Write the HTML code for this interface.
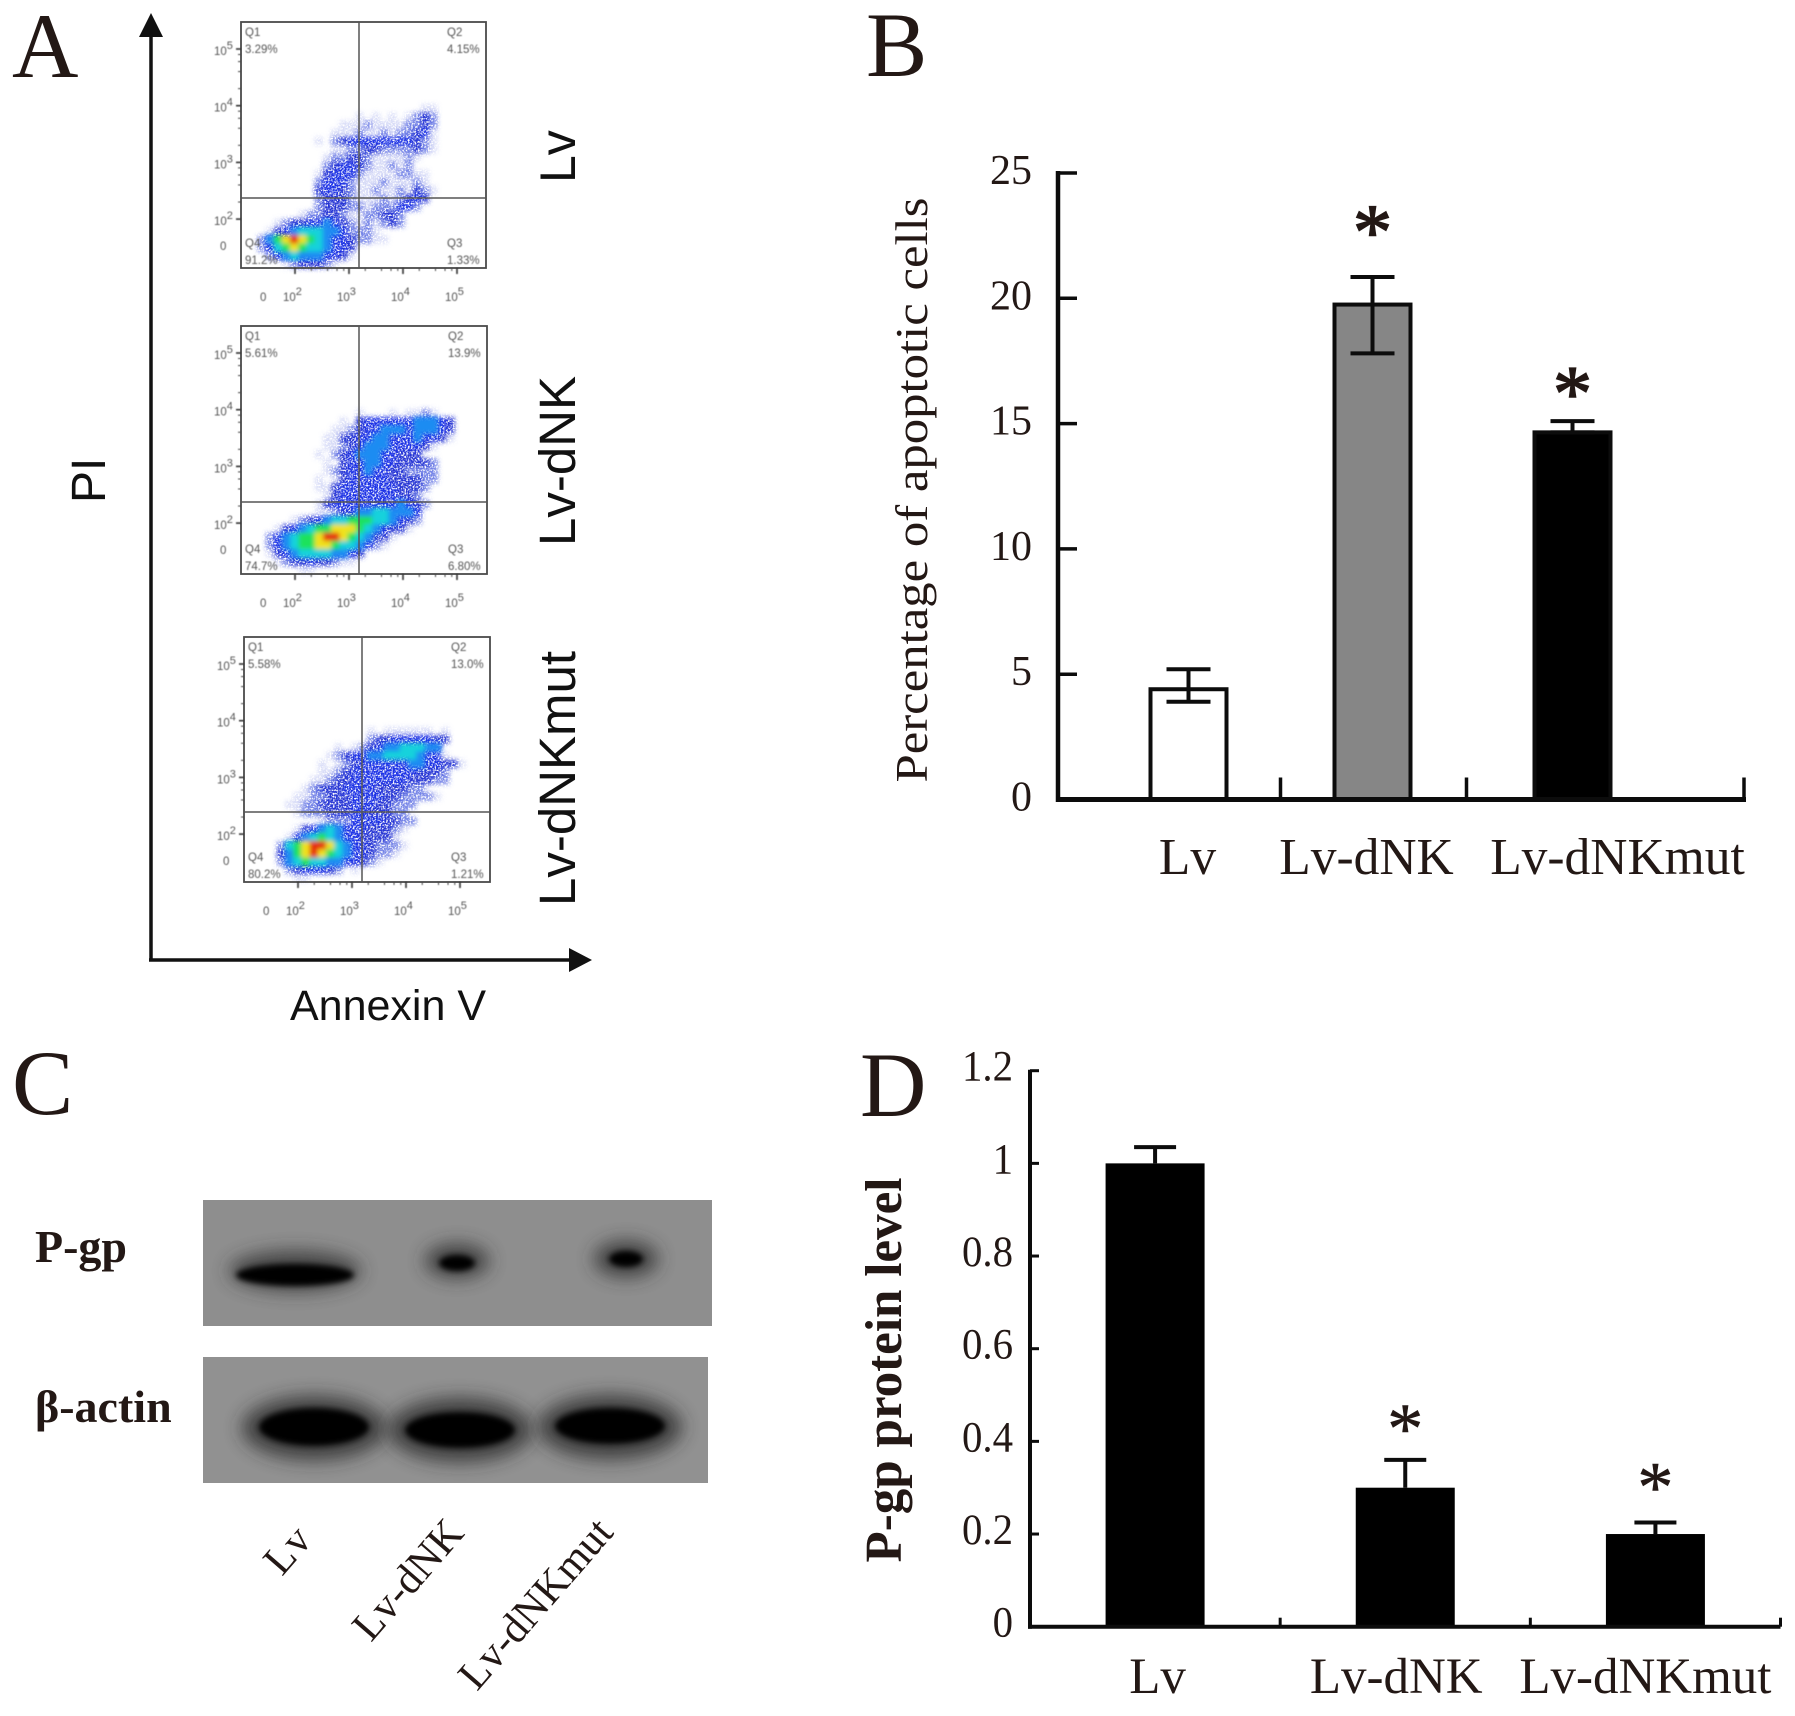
<!DOCTYPE html>
<html lang="en">
<head>
<meta charset="utf-8">
<title>Apoptosis and P-gp figure</title>
<style>
html,body{margin:0;padding:0;background:#fff;}
svg{display:block;}
text{font-family:"Liberation Serif",serif;fill:#231815;}
.sans{font-family:"Liberation Sans",sans-serif;fill:#111;}
.flow-text{font-family:"Liberation Sans",sans-serif;fill:#555;font-size:11.5px;}
</style>
</head>
<body>
<svg id="fig" xmlns="http://www.w3.org/2000/svg" width="1795" height="1716" viewBox="0 0 1795 1716">
<defs>
<filter id="speckle" x="-5%" y="-5%" width="110%" height="110%">
<feGaussianBlur in="SourceGraphic" stdDeviation="2.4" result="b"/>
<feTurbulence type="fractalNoise" baseFrequency="0.6" numOctaves="2" seed="4" result="n"/>
<feColorMatrix in="n" type="matrix" values="0 0 0 0 1  0 0 0 0 1  0 0 0 0 1  0 0 0 4 -1.2" result="m"/>
<feComposite in="b" in2="m" operator="in"/>
</filter>
<filter id="hot" x="-5%" y="-5%" width="110%" height="110%"><feGaussianBlur stdDeviation="2.4"/></filter>
<filter id="soft" x="-5%" y="-5%" width="110%" height="110%"><feGaussianBlur stdDeviation="0.45"/></filter>
<filter id="b3" x="-30%" y="-100%" width="160%" height="300%"><feGaussianBlur stdDeviation="3"/></filter>
<filter id="b9" x="-50%" y="-150%" width="200%" height="400%"><feGaussianBlur stdDeviation="9"/></filter>
<clipPath id="clip-pgp"><rect x="203" y="1200" width="509" height="126"/></clipPath>
<clipPath id="clip-actin"><rect x="203" y="1357" width="505" height="126"/></clipPath>
</defs>

<text x="12" y="77" font-size="92">A</text>
<text x="866" y="76" font-size="92">B</text>
<text x="12" y="1114" font-size="92">C</text>
<text x="860" y="1116" font-size="92">D</text>

<g>
<line x1="151" y1="961" x2="151" y2="30" stroke="#111" stroke-width="3.5"/>
<polygon points="151,13 139,37 163,37" fill="#111"/>
<line x1="149" y1="960" x2="575" y2="960" stroke="#111" stroke-width="3.5"/>
<polygon points="592,960 569,948 569,972" fill="#111"/>
<text class="sans" transform="translate(105,503) rotate(-90)" font-size="48">PI</text>
<text class="sans" x="290" y="1020" font-size="43">Annexin V</text>
<text class="sans" transform="translate(575,183) rotate(-90)" font-size="50">Lv</text>
<text class="sans" transform="translate(575,546) rotate(-90)" font-size="51">Lv-dNK</text>
<text class="sans" transform="translate(575,906) rotate(-90)" font-size="51">Lv-dNKmut</text>
</g>
<g id="flow-plots"></g>

<g id="chart-b"></g>

<g>
<text x="35" y="1262" font-size="46" font-weight="bold">P-gp</text>
<text x="35" y="1422" font-size="46" font-weight="bold" style="font-family:'Liberation Serif','Noto Serif CJK SC',serif">β-actin</text>
<g clip-path="url(#clip-pgp)">
<rect x="203" y="1200" width="509" height="126" fill="#8e8e8e"/>
<ellipse cx="295" cy="1271" rx="66" ry="20" fill="#333" opacity=".8" filter="url(#b9)"/>
<ellipse cx="295" cy="1275" rx="59" ry="11" fill="#000" filter="url(#b3)"/>
<ellipse cx="457" cy="1261" rx="32" ry="17" fill="#333" opacity=".85" filter="url(#b9)"/>
<ellipse cx="457" cy="1263" rx="18" ry="8" fill="#000" filter="url(#b3)"/>
<ellipse cx="626" cy="1259" rx="32" ry="18" fill="#333" opacity=".85" filter="url(#b9)"/>
<ellipse cx="626" cy="1259" rx="17" ry="8" fill="#000" filter="url(#b3)"/>
</g>
<g clip-path="url(#clip-actin)">
<rect x="203" y="1357" width="505" height="126" fill="#919191"/>
<ellipse cx="314" cy="1428" rx="72" ry="32" fill="#2a2a2a" opacity=".8" filter="url(#b9)"/>
<ellipse cx="460" cy="1430" rx="72" ry="32" fill="#2a2a2a" opacity=".8" filter="url(#b9)"/>
<ellipse cx="610" cy="1427" rx="72" ry="32" fill="#2a2a2a" opacity=".8" filter="url(#b9)"/>
<ellipse cx="314" cy="1427" rx="55" ry="19" fill="#000" filter="url(#b3)"/>
<ellipse cx="460" cy="1430" rx="55" ry="18" fill="#000" filter="url(#b3)"/>
<ellipse cx="610" cy="1426" rx="55" ry="18" fill="#000" filter="url(#b3)"/>
</g>
<text transform="translate(282,1577) rotate(-49)" font-size="42" letter-spacing="1">Lv</text>
<text transform="translate(371,1643) rotate(-49)" font-size="42.5">Lv-dNK</text>
<text transform="translate(477,1692) rotate(-49)" font-size="42.5">Lv-dNKmut</text>
</g>

<g id="chart-d"></g>

<script>
// ---- Panel B data ----
const apoptosisCategories = ['Lv', 'Lv-dNK', 'Lv-dNKmut'];
const apoptosisValues = [4.4, 19.75, 14.65];
const apoptosisErrUpper = [5.2, 20.85, 15.1];
const apoptosisErrLower = [3.9, 17.8, 14.65];
const apoptosisTicks = [0, 5, 10, 15, 20, 25];
const apoptosisStarHeights = [null, 22.85, 16.4];
const apoptosisFills = ['#ffffff', '#868686', '#000000'];

// ---- Panel D data ----
const pgpCategories = ['Lv', 'Lv-dNK', 'Lv-dNKmut'];
const pgpValues = [1.0, 0.3, 0.2];
const pgpErrUpper = [1.035, 0.36, 0.225];
const pgpTicks = [0, 0.2, 0.4, 0.6, 0.8, 1, 1.2];
const pgpStarHeights = [null, 0.442, 0.316];

// ---- Panel A data: density per gate-grid cell, read by eye (row = PI, col = Annexin V) ----
const flowLogExponents = [2, 3, 4, 5];
const flowQuadrants = ['Q1', 'Q2', 'Q3', 'Q4'];
const pctLv = ['3.29%', '4.15%', '1.33%', '91.2%'];
const pctDnk = ['5.61%', '13.9%', '6.80%', '74.7%'];
const pctMut = ['5.58%', '13.0%', '1.21%', '80.2%'];
const densityLv = [
'','','','','','','','','','',
'......................11',
'..............1.1.1.1232',
'............111211112232',
'...........1112112122341',
'.........1.2344444444321',
'...........1122332222321',
'..........122332111121',
'..........23443211212',
'.........13444211112211',
'.........24442111211121',
'.........344321121121321',
'.........23332111212343',
'.........2333221222442',
'.......1223321122332',
'....1233445432121232',
'...13456665542221',
'..2578987654432211',
'..246787665443',
'...24565554431',
'.....1233321'
];
const densityDnk = [
'','','','','','','','','',
'',
'..............1...1.1121',
'............1.344444455543',
'...........112344555455543',
'..........1133445544454431',
'..........11234555444431',
'.........1.23455544333',
'..........1.344554433332',
'..........12344544332222',
'.........1.1344444333322',
'.........11344444443332',
'..........134444444332',
'.........13444444445432',
'.........1123455665554',
'......1234566777665432',
'....13456778887654331',
'...2456778998765331',
'...245677887665421',
'...134566665543',
'....1233433211',
'.......11'
];
const densityMut = [
'','','','','','','','','','',
'',
'...............1.111111.1',
'...............2334444433',
'...........1.12345566655',
'..........123445566665441',
'.........1.1234444445544331',
'.........1123444444443332',
'........11233444444433322',
'.......123334444333322',
'......112233344443322221',
'.....1122333344433222',
'......12223334433322',
'.........122244443322',
'......13456544433321',
'.....14567654433331',
'....2678998654432221',
'....357898765443221',
'....2567665544321',
'.....2344432.1',
'......11'
];

const NS = 'http://www.w3.org/2000/svg';
function mk(tag, attrs, parent) {
  const el = document.createElementNS(NS, tag);
  for (const k in attrs) el.setAttribute(k, attrs[k]);
  parent.appendChild(el);
  return el;
}

// ---------- Flow plots ----------
const lowColors = {1:'rgba(105,120,225,.24)',2:'rgba(55,75,220,.66)',3:'#2535d4',4:'#1a30e6'};
const hotColors = {5:'#1a8cf2',6:'#16d2dc',7:'#1fe25c',8:'#f0e21e',9:'#e62c0e'};

function drawFlow(root, name, box, density, pct) {
  const g = mk('g', {}, root);
  
  
  const colCount = 30;
  const rowCount = 30;
  const xCell = c => box.x + c * box.w / colCount;
  const yCell = r => box.y + r * box.h / rowCount;
  const cw = box.w / colCount;
  const ch = box.h / rowCount;
  const low = mk('g', {filter: 'url(#speckle)'}, g);
  
  
  const hot = mk('g', {filter: 'url(#hot)'}, g);
  
  
  density.forEach((row, r) => {
    for (let c = 0; c < row.length; c++) {
      const v = row[c] === '.' ? 0 : +row[c];
      if (!v) continue;
      const base = mk('rect', {x: xCell(c), y: yCell(r), width: cw + .4, height: ch + .4, fill: lowColors[Math.min(v, 4)]}, low);
      
      
      if (v >= 5) {
        const cell = mk('rect', {x: xCell(c), y: yCell(r), width: cw + .4, height: ch + .4, fill: hotColors[v]}, hot);
        
        
      }
    }
  });
  const frame = mk('rect', {x: box.x, y: box.y, width: box.w, height: box.h, fill: 'none', stroke: '#4a4a4a', 'stroke-width': 1.8}, g);
  
  
  const gv = mk('line', {x1: box.gx, x2: box.gx, y1: box.y, y2: box.y + box.h, stroke: '#555', 'stroke-width': 1.5}, g);
  
  
  const gh = mk('line', {x1: box.x, x2: box.x + box.w, y1: box.gy, y2: box.gy, stroke: '#555', 'stroke-width': 1.5}, g);
  
  

  const txt = mk('g', {filter: 'url(#soft)'}, g);
  
  
  const xLog = e => box.x + 51 + (e - 2) * 54;
  const yLog = e => box.y + 27 + (5 - e) * 56.7;

  flowLogExponents.forEach(e => {
    const yl = mk('text', {class: 'flow-text', x: box.x - 27, y: yLog(e) + 6}, txt);
    
    
    yl.textContent = '10';
    const ys = mk('tspan', {dy: -6, 'font-size': 11}, yl);
    ys.textContent = e;
    const yt = mk('line', {x1: box.x - 5, x2: box.x, y1: yLog(e), y2: yLog(e), stroke: '#333', 'stroke-width': 1.6}, txt);
    
    
    const xl = mk('text', {class: 'flow-text', x: xLog(e) - 9, y: box.y + box.h + 33}, txt);
    
    
    xl.textContent = '10';
    const xs = mk('tspan', {dy: -6, 'font-size': 11}, xl);
    xs.textContent = e;
    const xt = mk('line', {x1: xLog(e) + 3, x2: xLog(e) + 3, y1: box.y + box.h, y2: box.y + box.h + 6, stroke: '#333', 'stroke-width': 1.6}, txt);
    
    
    if (e < 5) {
      for (let m = 2; m < 10; m += 2) {
        const off = Math.log10(m);
        const mx = mk('line', {x1: xLog(e + off) + 3, x2: xLog(e + off) + 3, y1: box.y + box.h, y2: box.y + box.h + 3, stroke: '#444', 'stroke-width': 1}, txt);
        
        
        const my = mk('line', {x1: box.x - 3, x2: box.x, y1: yLog(e + off), y2: yLog(e + off), stroke: '#444', 'stroke-width': 1}, txt);
        
        
      }
    }
  });
  const y0 = mk('text', {class: 'flow-text', x: box.x - 21, y: box.y + 228}, txt);
  
  
  y0.textContent = '0';
  const x0 = mk('text', {class: 'flow-text', x: box.x + 19, y: box.y + box.h + 33}, txt);
  
  
  x0.textContent = '0';

  flowQuadrants.forEach((q, i) => {
    const left = i === 0 || i === 3;
    const top = i < 2;
    const lx = left ? box.x + 4 : box.x + box.w - 39;
    const ly = top ? box.y + 14 : box.y + box.h - 21;
    const t1 = mk('text', {class: 'flow-text', x: lx, y: ly}, txt);
    
    
    t1.textContent = q;
    const t2 = mk('text', {class: 'flow-text', x: lx, y: ly + 17}, txt);
    
    
    t2.textContent = pct[i];
  });
}
const flowRoot = document.getElementById('flow-plots');
drawFlow(flowRoot, 'lv', {x: 241, y: 22, w: 245, h: 246, gx: 359, gy: 198}, densityLv, pctLv);
drawFlow(flowRoot, 'lv-dnk', {x: 241, y: 326, w: 246, h: 248, gx: 359, gy: 502}, densityDnk, pctDnk);
drawFlow(flowRoot, 'lv-dnkmut', {x: 244, y: 637, w: 246, h: 245, gx: 362, gy: 812}, densityMut, pctMut);

// ---------- Panel B ----------
(function () {
  const root = document.getElementById('chart-b');
  const originX = 1058, originY = 799.5, topY = 173, rightX = 1744;
  const yB = v => originY - v * (originY - topY) / 25;
  const xB = i => 1188.5 + 184 * i + (i > 1 ? 16 : 0);
  const xBoundary = i => i < 2 ? (xB(i) + xB(i + 1)) / 2 - (i ? 6 : 0) : rightX;
  const labelCenter = i => xB(i) + [-1, -6, 45][i];
  const barW = 76;

  apoptosisValues.forEach((v, i) => {
    const bar = mk('rect', {x: xB(i) - barW / 2, y: yB(v), width: barW, height: originY - yB(v), fill: apoptosisFills[i], stroke: '#0c0c0c', 'stroke-width': 4}, root);
    
    
    const stem = mk('line', {x1: xB(i), x2: xB(i), y1: yB(apoptosisErrUpper[i]), y2: yB(apoptosisErrLower[i]), stroke: '#0c0c0c', 'stroke-width': 4}, root);
    
    
    const capU = mk('line', {x1: xB(i) - 22, x2: xB(i) + 22, y1: yB(apoptosisErrUpper[i]), y2: yB(apoptosisErrUpper[i]), stroke: '#0c0c0c', 'stroke-width': 4}, root);
    
    
    const capL = mk('line', {x1: xB(i) - 22, x2: xB(i) + 22, y1: yB(apoptosisErrLower[i]), y2: yB(apoptosisErrLower[i]), stroke: '#0c0c0c', 'stroke-width': 4}, root);
    
    
    const lab = mk('text', {x: labelCenter(i), y: 874, 'font-size': 51.5, 'text-anchor': 'middle'}, root);
    
    
    lab.textContent = apoptosisCategories[i];
    if (apoptosisStarHeights[i] !== null) {
      const star = mk('text', {x: xB(i), y: yB(apoptosisStarHeights[i]) + 31, 'font-size': 78, 'text-anchor': 'middle', stroke: '#231815', 'stroke-width': 1.6}, root);
      
      
      star.textContent = '*';
    }
    const tick = mk('line', {x1: xBoundary(i), x2: xBoundary(i), y1: originY, y2: originY - 22, stroke: '#0c0c0c', 'stroke-width': 3.5}, root);
    
    
  });

  const axisY = mk('line', {x1: originX, x2: originX, y1: topY - 2, y2: originY + 2.5, stroke: '#0c0c0c', 'stroke-width': 4.5}, root);
  
  
  const axisX = mk('line', {x1: originX - 2, x2: rightX + 2, y1: originY, y2: originY, stroke: '#0c0c0c', 'stroke-width': 5}, root);
  
  

  apoptosisTicks.forEach(t => {
    const tk = mk('line', {x1: originX, x2: originX + 19, y1: yB(t), y2: yB(t), stroke: '#0c0c0c', 'stroke-width': 3.5}, root);
    
    
    const lb = mk('text', {x: 1032, y: yB(t) + 11, 'font-size': 42, 'text-anchor': 'end', fill: '#333'}, root);
    
    
    lb.textContent = t;
  });
  const title = mk('text', {transform: 'translate(927,490) rotate(-90)', 'font-size': 46, 'text-anchor': 'middle', textLength: 585, lengthAdjust: 'spacingAndGlyphs'}, root);
  
  
  title.textContent = 'Percentage of apoptotic cells';
})();

// ---------- Panel D ----------
(function () {
  const root = document.getElementById('chart-d');
  const originX = 1030, originY = 1626.7, topY = 1070.7, rightX = 1780.5;
  const yD = v => originY - v * (originY - topY) / 1.2;
  const step = (rightX - originX) / 3;
  const xD = i => originX + step * (i + .5);
  const barW = 99;

  pgpValues.forEach((v, i) => {
    const bar = mk('rect', {x: xD(i) - barW / 2, y: yD(v), width: barW, height: originY - yD(v), fill: '#000'}, root);
    
    
    const stem = mk('line', {x1: xD(i), x2: xD(i), y1: yD(pgpErrUpper[i]), y2: yD(v), stroke: '#0c0c0c', 'stroke-width': 4}, root);
    
    
    const cap = mk('line', {x1: xD(i) - 21, x2: xD(i) + 21, y1: yD(pgpErrUpper[i]), y2: yD(pgpErrUpper[i]), stroke: '#0c0c0c', 'stroke-width': 4}, root);
    
    
    const lab = mk('text', {x: xD(i) + [2.5, -9, -10][i], y: 1693, 'font-size': 51, 'text-anchor': 'middle'}, root);
    
    
    lab.textContent = pgpCategories[i];
    if (pgpStarHeights[i] !== null) {
      const star = mk('text', {x: xD(i), y: yD(pgpStarHeights[i]) + 31, 'font-size': 72, 'text-anchor': 'middle', stroke: '#231815', 'stroke-width': 0.6}, root);
      
      
      star.textContent = '*';
    }
    const tick = mk('line', {x1: originX + step * (i + 1), x2: originX + step * (i + 1), y1: originY, y2: originY - 9, stroke: '#0c0c0c', 'stroke-width': 3}, root);
    
    
  });

  const axisY = mk('line', {x1: originX, x2: originX, y1: topY - 1, y2: originY + 2, stroke: '#0c0c0c', 'stroke-width': 4}, root);
  
  
  const axisX = mk('line', {x1: originX - 2, x2: rightX, y1: originY, y2: originY, stroke: '#0c0c0c', 'stroke-width': 4}, root);
  
  

  pgpTicks.forEach(t => {
    const tk = mk('line', {x1: originX, x2: originX + 9, y1: yD(t), y2: yD(t), stroke: '#0c0c0c', 'stroke-width': 3}, root);
    
    
    const lb = mk('text', {transform: 'translate(1013,' + (yD(t) + 10) + ') scale(.95,1)', 'font-size': 43, 'text-anchor': 'end', fill: '#333'}, root);
    
    
    lb.textContent = t;
  });
  const title = mk('text', {transform: 'translate(901,1370) rotate(-90)', 'font-size': 52, 'font-weight': 'bold', 'text-anchor': 'middle', textLength: 385, lengthAdjust: 'spacingAndGlyphs'}, root);
  
  
  title.textContent = 'P-gp protein level';
})();
</script>
</svg>
</body>
</html>
